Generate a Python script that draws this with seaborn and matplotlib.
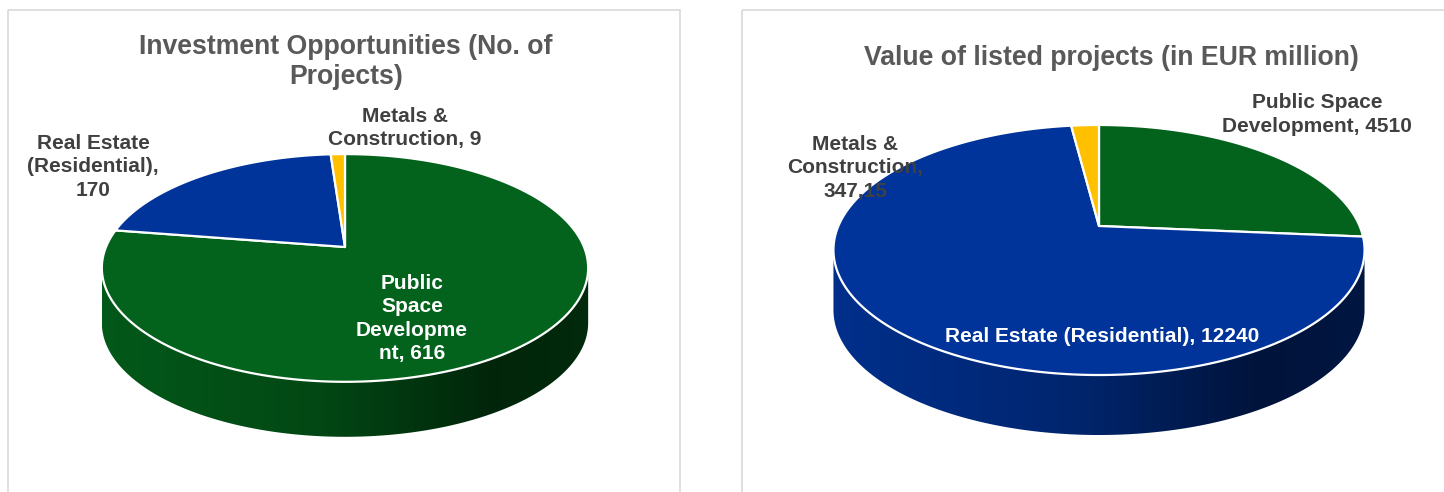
import numpy as np
import matplotlib
matplotlib.use("Agg")
import matplotlib.pyplot as plt
import seaborn as sns
from matplotlib.patches import Polygon, Rectangle
from matplotlib.colors import to_rgb

# ---- data -------------------------------------------------------------
sectors = ["Public Space Development", "Real Estate (Residential)", "Metals & Construction"]
project_counts = [616, 170, 9]
project_values_eur_m = [4510, 12240, 347.15]
sector_colors = ["#03631C", "#00349A", "#FFC000"]

title_left = "Investment Opportunities (No. of\nProjects)"
title_right = "Value of listed projects (in EUR million)"


def fmt_eu(v):
    s = f"{v:.2f}".rstrip("0").rstrip(".") if v != int(v) else f"{int(v)}"
    return s.replace(".", ",")


labels_left = [
    f"Public\nSpace\nDevelopme\nnt, {fmt_eu(project_counts[0])}",
    f"Real Estate\n(Residential),\n{fmt_eu(project_counts[1])}",
    f"Metals &\nConstruction, {fmt_eu(project_counts[2])}",
]
labels_right = [
    f"Public Space\nDevelopment, {fmt_eu(project_values_eur_m[0])}",
    f"Real Estate (Residential), {fmt_eu(project_values_eur_m[1])}",
    f"Metals &\nConstruction,\n{fmt_eu(project_values_eur_m[2])}",
]

# ---- style ------------------------------------------------------------
sns.set_theme(style="white")
plt.rcParams["font.family"] = ["Liberation Sans", "DejaVu Sans"]

fig = plt.figure(figsize=(14.44, 4.92), dpi=100)
ax = fig.add_axes([0, 0, 1, 1])
ax.set_xlim(0, 1444)
ax.set_ylim(492, 0)
ax.axis("off")

# chart frames
for x0, w in [(8, 672), (742, 720)]:
    ax.add_patch(Rectangle((x0, 10), w, 500, facecolor="none",
                           edgecolor="#d9d9d9", lw=1.2, zorder=0))


def shade(color, f):
    stops = [0.0, 0.45, 0.8, 1.0]
    facs = [0.9, 0.72, 0.38, 0.42]
    m = np.interp(f, stops, facs)
    return np.clip(np.array(to_rgb(color))[None, :] * m[:, None], 0, 1)


def pie3d(ax, values, colors, cx, cy, A, B, k, depth):
    vals = np.asarray(values, dtype=float)
    ang = np.concatenate([[0], np.cumsum(vals) / vals.sum() * 360.0])

    def proj(theta):
        th = np.radians(theta)
        X, V = np.sin(th), np.cos(th)
        w = 1 + k * V
        return cx + A * X / w, cy - B * V / w

    # front (visible) part of the rim
    t_r = np.degrees(np.arccos(-k))
    t_l = 360.0 - t_r
    half_w = A / np.sqrt(1 - k * k)
    gx0, gx1 = cx - half_w, cx + half_w
    for a0, a1, c in zip(ang[:-1], ang[1:], colors):
        s0, s1 = max(a0, t_r), min(a1, t_l)
        if s1 <= s0:
            continue
        t = np.linspace(s0, s1, 200)
        xs, ys = proj(t)
        pts = np.concatenate([np.c_[xs, ys], np.c_[xs[::-1], ys[::-1] + depth]])
        patch = Polygon(pts, closed=True, facecolor="none", edgecolor="none", zorder=1)
        ax.add_patch(patch)
        grad = shade(c, np.linspace(0, 1, 400))[None, :, :]
        im = ax.imshow(grad, extent=(gx0, gx1, ys.max() + depth + 2, ys.min() - 2),
                       aspect="auto", interpolation="bilinear", zorder=1)
        im.set_clip_path(patch)

    # top face
    for a0, a1, c in zip(ang[:-1], ang[1:], colors):
        t = np.linspace(a0, a1, max(int((a1 - a0) * 2), 8))
        xs, ys = proj(t)
        pts = np.concatenate([[[cx, cy]], np.c_[xs, ys]])
        ax.add_patch(Polygon(pts, closed=True, facecolor=c, edgecolor="white",
                             lw=1.6, joinstyle="round", zorder=2))


pie3d(ax, project_counts, sector_colors, cx=345, cy=247, A=239, B=110, k=0.184, depth=55)
pie3d(ax, project_values_eur_m, sector_colors, cx=1099, cy=226, A=260.6, B=120.4, k=0.192, depth=60)

title_kw = dict(ha="center", va="center", fontsize=19.2, fontweight="bold",
                color="#595959", linespacing=1.25, zorder=5)
ax.text(346, 62, title_left, **title_kw)
ax.text(1111, 58, title_right, **title_kw)

lab_kw = dict(ha="center", va="center", fontsize=15, fontweight="bold",
              linespacing=1.31, zorder=5)
dark, light = "#404040", "white"
ax.text(412, 318.5, labels_left[0], color=light, **lab_kw)
ax.text(93, 167, labels_left[1], color=dark, **lab_kw)
ax.text(405, 128, labels_left[2], color=dark, **lab_kw)

ax.text(1317, 114.5, labels_right[0], color=dark, **lab_kw)
ax.text(1102, 337, labels_right[1], color=light, **lab_kw)
ax.text(855, 168, labels_right[2], color=dark, **lab_kw)

fig.savefig("out.png", dpi=100)
